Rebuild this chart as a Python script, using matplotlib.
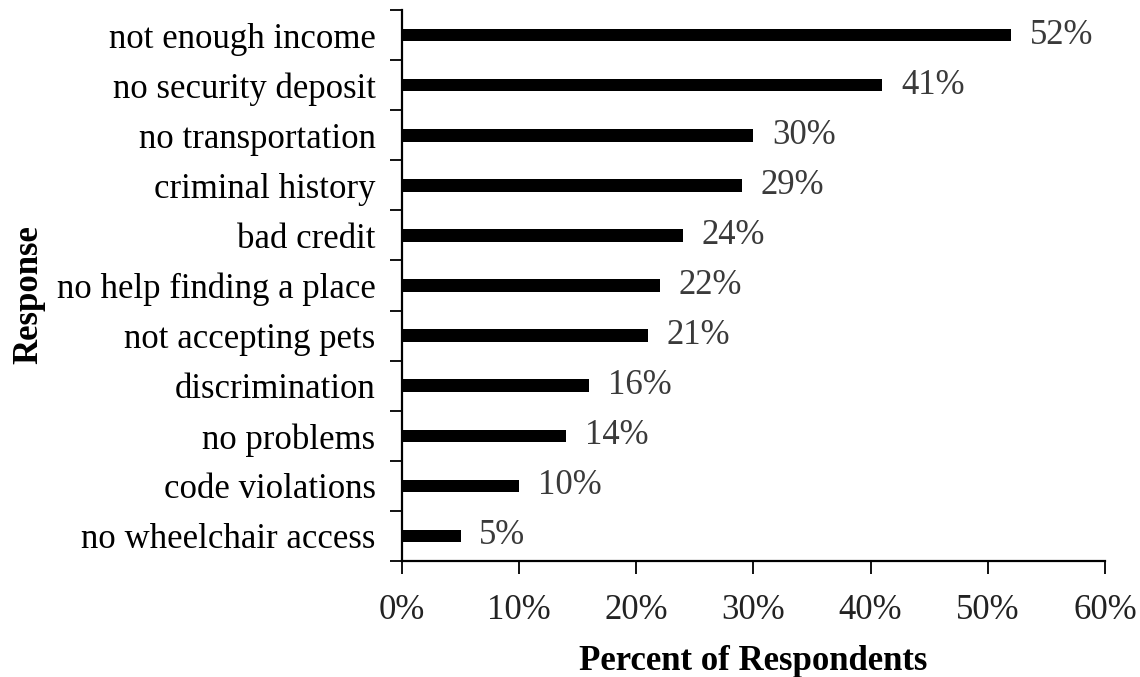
import matplotlib.pyplot as plt
from matplotlib.ticker import FixedLocator, PercentFormatter

# ---- Data (top to bottom as in the chart) ----
responses = ["not enough income", "no security deposit", "no transportation",
             "criminal history", "bad credit", "no help finding a place",
             "not accepting pets", "discrimination", "no problems",
             "code violations", "no wheelchair access"]
percents = [52, 41, 30, 29, 24, 22, 21, 16, 14, 10, 5]

plt.rcParams["font.family"] = ["Liberation Serif", "DejaVu Serif"]
FS = 25

fig = plt.figure(figsize=(11.4, 6.77), dpi=100)
ax = fig.add_axes([0.3526, 0.1713, 0.6167, 0.8139])

n = len(responses)
ypos = list(range(n))[::-1]
ax.barh(ypos, percents, height=0.25, color="black")

# ---- value labels ----
for y, v in zip(ypos, percents):
    ax.text(v + 1.6, y, f"{v}%", va="center", ha="left",
            fontsize=FS, color="#3a3a3a")

ax.set_xlim(0, 60)
ax.set_ylim(-0.5, n - 0.5)
ax.set_xticks(range(0, 61, 10))
ax.xaxis.set_major_formatter(PercentFormatter(decimals=0))
ax.set_yticks(ypos)
ax.set_yticklabels(responses)
ax.yaxis.set_minor_locator(FixedLocator([i - 0.5 for i in range(n + 1)]))

ax.tick_params(axis="y", which="major", length=0, pad=19, labelsize=FS)
ax.tick_params(axis="y", which="minor", length=9, width=1.3, direction="out")
ax.tick_params(axis="x", length=9, width=1.3, direction="out", pad=15,
               labelsize=FS, labelcolor="#222222")

for s in ["top", "right"]:
    ax.spines[s].set_visible(False)
for s in ["left", "bottom"]:
    ax.spines[s].set_linewidth(1.6)

ax.set_xlabel("Percent of Respondents", fontsize=FS, fontweight="bold", labelpad=13)
fig.text(0.025, 0.565, "Response", rotation=90, fontsize=FS, fontweight="bold",
         ha="center", va="center")

fig.savefig("out.png", dpi=100)
